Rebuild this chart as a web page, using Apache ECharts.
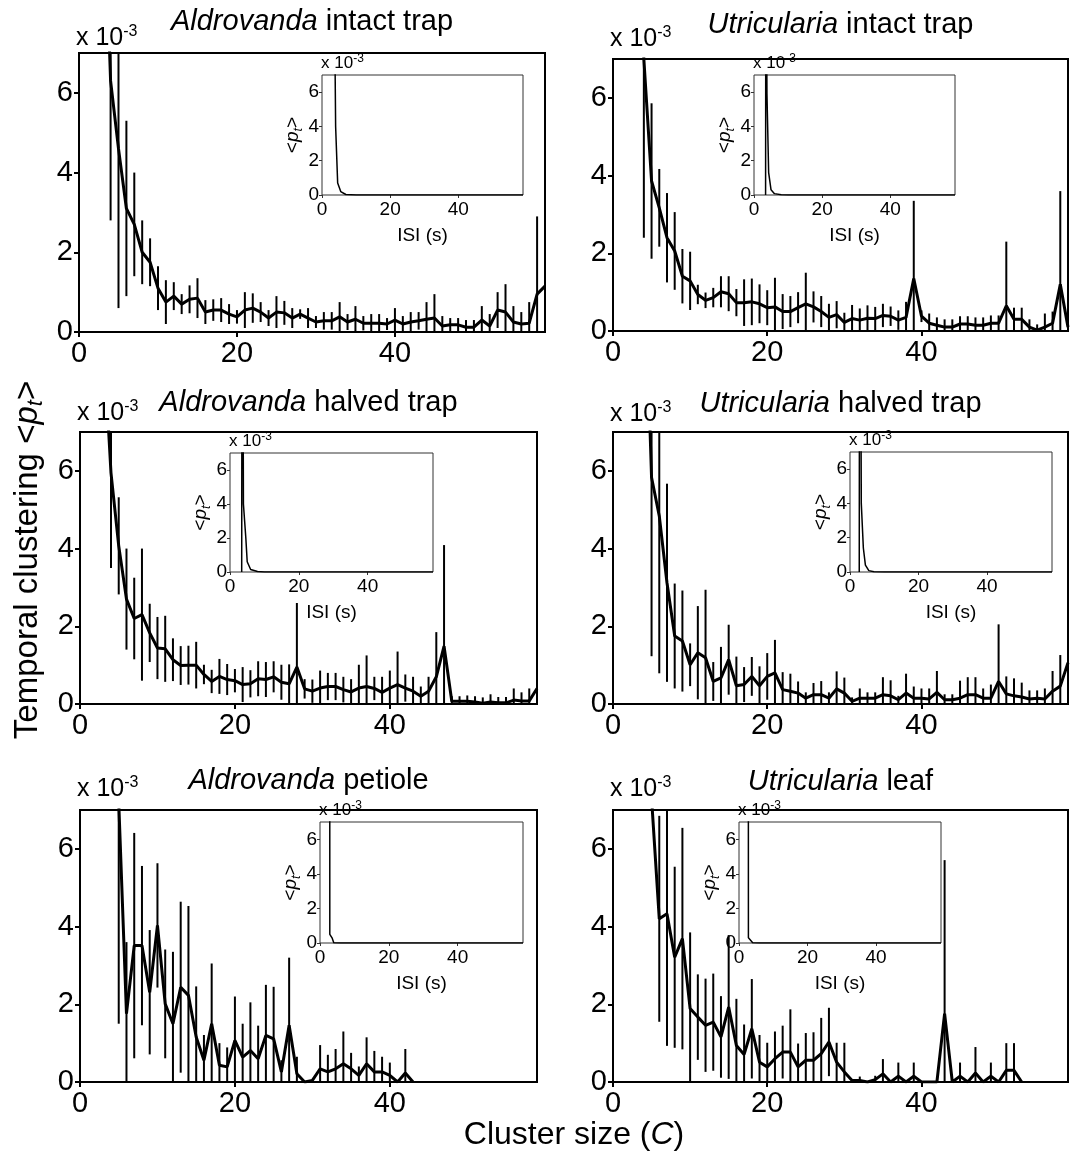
<!DOCTYPE html>
<html>
<head>
<meta charset="utf-8">
<script src="https://cdn.jsdelivr.net/npm/echarts@6/dist/echarts.min.js"></script>
<style>
html, body { margin: 0; padding: 0; background: #fff; }
#chart { width: 1078px; height: 1155px; }
</style>
</head>
<body>
<div id="chart"></div>
<script>
// cluster size C starts at pXStart, one value per integer C (x 10^-3)
var p1Start = 3;
var p1Mean = [12, 6.3, 4.6, 3.1, 2.7, 2.0, 1.75, 1.1, 0.75, 0.9,
	0.7, 0.82, 0.85, 0.5, 0.55, 0.55, 0.45, 0.38, 0.55, 0.6,
	0.5, 0.35, 0.5, 0.48, 0.35, 0.45, 0.35, 0.25, 0.28, 0.28,
	0.38, 0.25, 0.32, 0.22, 0.22, 0.22, 0.2, 0.3, 0.2, 0.25,
	0.28, 0.32, 0.35, 0.15, 0.18, 0.18, 0.12, 0.12, 0.3, 0.15,
	0.55, 0.5, 0.25, 0.2, 0.22, 0.95, 1.15];
var p1Err = [0, 3.5, 4.0, 2.2, 1.3, 0.8, 0.6, 0.55, 0.55, 0.35,
	0.25, 0.35, 0.5, 0.3, 0.27, 0.3, 0.25, 0.17, 0.45, 0.37,
	0.25, 0.2, 0.4, 0.3, 0.25, 0.12, 0.25, 0.15, 0.22, 0.22,
	0.37, 0.2, 0.33, 0.18, 0.23, 0.23, 0.15, 0.3, 0.2, 0.25,
	0.22, 0.43, 0.6, 0.25, 0.17, 0.17, 0.18, 0.18, 0.35, 0.3,
	0.45, 0.7, 0.4, 0.3, 0.53, 1.95, 0];

var p2Start = 3;
var p2Mean = [14, 7.0, 3.86, 3.17, 2.4, 2.06, 1.41, 1.29, 0.94, 0.79,
	0.86, 1.01, 0.96, 0.73, 0.73, 0.75, 0.7, 0.6, 0.62, 0.5,
	0.5, 0.6, 0.7, 0.62, 0.5, 0.35, 0.42, 0.22, 0.32, 0.28,
	0.33, 0.32, 0.4, 0.38, 0.28, 0.35, 1.35, 0.38, 0.2, 0.15,
	0.1, 0.1, 0.18, 0.18, 0.15, 0.15, 0.2, 0.2, 0.65, 0.3,
	0.3, 0.1, 0.02, 0.1, 0.2, 1.2, 0.1];
var p2Err = [0, 4.6, 2.0, 1.0, 1.15, 1.0, 0.7, 0.75, 0.25, 0.2,
	0.25, 0.4, 0.45, 0.35, 0.6, 0.6, 0.5, 0.45, 0.75, 0.45,
	0.4, 0.4, 0.8, 0.4, 0.4, 0.35, 0.35, 0.25, 0.35, 0.3,
	0.33, 0.3, 0.3, 0.25, 0.25, 0.4, 2.0, 0.15, 0.25, 0.2,
	0.2, 0.2, 0.2, 0.2, 0.2, 0.2, 0.2, 0.2, 1.65, 0.3,
	0.3, 0.2, 0.15, 0.35, 0.3, 2.4, 0];

var p3Start = 3;
var p3Mean = [9.5, 5.95, 4.07, 2.7, 2.2, 2.3, 1.83, 1.44, 1.42, 1.14,
	0.99, 1.0, 1.0, 0.76, 0.58, 0.71, 0.63, 0.6, 0.5, 0.52,
	0.65, 0.63, 0.7, 0.56, 0.52, 0.95, 0.39, 0.33, 0.41, 0.45,
	0.45, 0.37, 0.31, 0.41, 0.45, 0.4, 0.3, 0.41, 0.5, 0.41,
	0.33, 0.2, 0.33, 0.7, 1.49, 0.07, 0.07, 0.07, 0.05, 0.02,
	0.05, 0.03, 0.03, 0.1, 0.08, 0.08, 0.4];
var p3Err = [0, 2.45, 1.25, 1.3, 1.05, 1.7, 0.75, 0.8, 0.85, 0.55,
	0.5, 0.5, 0.6, 0.25, 0.3, 0.45, 0.4, 0.3, 0.45, 0.35,
	0.45, 0.45, 0.4, 0.45, 0.5, 1.65, 0.25, 0.3, 0.45, 0.35,
	0.35, 0.33, 0.33, 0.6, 0.8, 0.3, 0.4, 0.45, 0.85, 0.35,
	0.37, 0.25, 0.37, 1.15, 2.6, 0.13, 0.13, 0.15, 0.15, 0.15,
	0.2, 0.15, 0.15, 0.3, 0.22, 0.32, 0];

var p4Start = 4;
var p4Mean = [12, 5.83, 4.84, 3.12, 1.75, 1.62, 1.01, 1.32, 1.19, 0.58,
	0.67, 1.14, 0.47, 0.5, 0.71, 0.47, 0.71, 0.8, 0.37, 0.33,
	0.28, 0.15, 0.24, 0.24, 0.15, 0.39, 0.28, 0.07, 0.15, 0.15,
	0.15, 0.24, 0.21, 0.11, 0.28, 0.15, 0.15, 0.13, 0.3, 0.11,
	0.11, 0.15, 0.24, 0.24, 0.15, 0.15, 0.58, 0.26, 0.21, 0.18,
	0.13, 0.15, 0.13, 0.33, 0.46, 1.06];
var p4Err = [0, 4.6, 4.05, 2.55, 1.35, 1.3, 0.55, 1.2, 1.75, 0.5,
	0.8, 0.9, 0.75, 0.45, 0.5, 0.5, 0.6, 0.85, 0.45, 0.45,
	0.3, 0.15, 0.3, 0.35, 0.15, 0.45, 0.4, 0.1, 0.25, 0.15,
	0.15, 0.45, 0.4, 0.1, 0.5, 0.3, 0.25, 0.27, 0.55, 0.14,
	0.14, 0.45, 0.45, 0.45, 0.25, 0.35, 1.47, 0.45, 0.45, 0.37,
	0.22, 0.2, 0.27, 0.52, 0.8, 0];

var p5Start = 4;
var p5Mean = [30, 7.2, 1.76, 3.51, 3.51, 2.31, 4.03, 2.01, 1.5, 2.44,
	2.23, 1.16, 0.56, 1.5, 0.43, 0.39, 1.07, 0.64, 0.81, 0.6,
	1.2, 1.11, 0.26, 1.46, 0.21, 0, 0.04, 0.34, 0.26, 0.34,
	0.47, 0.34, 0.17, 0.47, 0.26, 0.26, 0.17, 0, 0.23, 0];
var p5Err = [0, 5.7, 1.84, 2.9, 2.05, 1.6, 1.6, 1.4, 1.85, 2.2,
	2.3, 1.3, 0.65, 1.55, 0.57, 0.5, 1.13, 0.86, 1.24, 0.85,
	1.3, 1.34, 0.3, 1.74, 0.44, 0, 0, 0.61, 0.44, 0.51,
	0.83, 0.41, 0.23, 0.68, 0.54, 0.39, 0.33, 0, 0.62, 0];

var p6Start = 4;
var p6Mean = [30, 7.3, 4.2, 4.33, 3.21, 3.69, 1.89, 1.67, 1.46, 1.54,
	1.16, 1.93, 0.94, 0.71, 1.37, 0.51, 0.39, 0.6, 0.77, 0.77,
	0.39, 0.56, 0.56, 0.73, 1.03, 0.51, 0.26, 0.04, 0.04, 0,
	0.06, 0.21, 0, 0.15, 0, 0.15, 0, 0, 0, 1.76,
	0, 0.15, 0, 0.23, 0, 0.15, 0, 0.3, 0.3, 0];
var p6Err = [0, 0, 2.65, 3.4, 2.33, 2.85, 1.96, 1.1, 1.2, 1.25,
	1.05, 1.85, 1.2, 0.77, 1.28, 0.7, 0.62, 0.7, 0.68, 1.1,
	0.6, 0.7, 0.72, 0.92, 0.88, 0.5, 0.75, 0, 0.1, 0,
	0.1, 0.38, 0, 0.35, 0, 0.35, 0, 0, 0, 3.95,
	0, 0.35, 0, 0.67, 0, 0.35, 0, 0.7, 0.7, 0];

// insets: ISI (s) vs <p_t> (x 10^-3)
var isi1T = [3.5, 4.0, 4.6, 5.5, 7, 10, 59];
var isi1P = [15, 4.0, 0.7, 0.2, 0.03, 0, 0];
var isi2T = [3.4, 3.5, 3.8, 4.3, 5, 6, 8, 10, 59];
var isi2P = [0, 20, 5.9, 1.3, 0.3, 0.08, 0.02, 0, 0];
var isi3T = [3.4, 3.55, 3.9, 4.6, 5.0, 6, 8, 10, 59];
var isi3P = [0, 30, 4.0, 2.0, 0.6, 0.15, 0.03, 0, 0];
var isi4T = [2.7, 2.85, 3.3, 3.9, 4.5, 5.5, 7, 10, 59];
var isi4P = [0, 30, 4.0, 1.4, 0.4, 0.08, 0.02, 0, 0];
var isi5T = [2.75, 2.85, 3.5, 4, 6, 59];
var isi5P = [80, 0.5, 0.3, 0.02, 0, 0];
var isi6T = [2.6, 2.75, 3.3, 4, 6, 59];
var isi6P = [80, 0.3, 0.25, 0.02, 0, 0];

var genus = ['Aldrovanda', 'Utricularia', 'Aldrovanda', 'Utricularia', 'Aldrovanda', 'Utricularia'];
var part = [' intact trap', ' intact trap', ' halved trap', ' halved trap', ' petiole', ' leaf'];
var xTicks = [0, 20, 40];
var yTicks = [0, 2, 4, 6];
var XMAX = 59, YMAX = 7;

var panels = [
	{start: p1Start, mean: p1Mean, err: p1Err, t: isi1T, p: isi1P},
	{start: p2Start, mean: p2Mean, err: p2Err, t: isi2T, p: isi2P},
	{start: p3Start, mean: p3Mean, err: p3Err, t: isi3T, p: isi3P},
	{start: p4Start, mean: p4Mean, err: p4Err, t: isi4T, p: isi4P},
	{start: p5Start, mean: p5Mean, err: p5Err, t: isi5T, p: isi5P},
	{start: p6Start, mean: p6Mean, err: p6Err, t: isi6T, p: isi6P}
];

// layout (px): left, top, width, height
var mainBox = [[79, 53, 466, 279], [613, 59, 455, 272], [80, 432, 457, 272],
	[613, 432, 455, 272], [80, 810, 457, 272], [613, 810, 455, 272]];
var insetBox = [[322, 75, 201, 120], [754, 75, 201, 120], [230, 453, 203, 119],
	[850, 452, 202, 120], [320, 822, 203, 121], [739, 822, 202, 121]];
var titleY = [22, 25, 403, 404, 781, 782];
var expY = [53, 54, 428, 429, 804, 804];

var FONT = 'Liberation Sans, Arial, Helvetica, sans-serif';

var grids = [], xAxes = [], yAxes = [], series = [], graphics = [];

var errRender = function(params, api){
	var x = api.value(0),
		lo = Math.max(0, api.value(1)),
		hi = Math.min(YMAX, api.value(2));
	if(hi <= lo) return null;
	var a = api.coord([x, lo]), b = api.coord([x, hi]);
	return {
		type: 'line',
		shape: {x1: a[0], y1: a[1], x2: b[0], y2: b[1]},
		style: {stroke: '#000', lineWidth: 2}
	};
};

var expText = function(x, y, big, small){
	return {
		type: 'text', x: x, y: y, z: 50,
		style: {
			text: '{a|x 10}{s|-3}',
			align: 'left', verticalAlign: 'bottom',
			fill: '#000',
			rich: {
				a: {fontSize: big, fontFamily: FONT, lineHeight: big + 4, fill: '#000'},
				s: {fontSize: small, fontFamily: FONT, lineHeight: small, verticalAlign: 'top', fill: '#000'}
			}
		}
	};
};

for(var k = 0; k < 6; k++){
	var pn = panels[k], mb = mainBox[k], ib = insetBox[k];
	var gMain = 2 * k, gIn = 2 * k + 1;

	grids.push({left: mb[0], top: mb[1], width: mb[2], height: mb[3],
		show: true, borderColor: '#000', borderWidth: 2, backgroundColor: 'transparent'});
	grids.push({left: ib[0], top: ib[1], width: ib[2], height: ib[3],
		show: true, borderColor: '#333', borderWidth: 1, backgroundColor: '#fff'});

	xAxes.push({
		type: 'value', gridIndex: gMain, min: 0, max: XMAX,
		axisLine: {show: false}, splitLine: {show: false},
		axisTick: {show: true, length: 5, customValues: xTicks, lineStyle: {color: '#000', width: 2}},
		axisLabel: {customValues: xTicks, fontSize: 29, color: '#000', margin: 7, fontFamily: FONT}
	});
	yAxes.push({
		type: 'value', gridIndex: gMain, min: 0, max: YMAX,
		axisLine: {show: false}, splitLine: {show: false},
		axisTick: {show: true, length: 5, customValues: yTicks, lineStyle: {color: '#000', width: 2}},
		axisLabel: {customValues: yTicks, fontSize: 29, color: '#000', margin: 6, fontFamily: FONT}
	});
	xAxes.push({
		type: 'value', gridIndex: gIn, min: 0, max: XMAX,
		axisLine: {show: false}, splitLine: {show: false},
		axisTick: {show: true, length: 3, customValues: xTicks, lineStyle: {color: '#333', width: 1}},
		axisLabel: {customValues: xTicks, fontSize: 19, color: '#000', margin: 5, fontFamily: FONT},
		name: 'ISI (s)', nameLocation: 'middle', nameGap: 31,
		nameTextStyle: {fontSize: 19, color: '#000', fontFamily: FONT}
	});
	yAxes.push({
		type: 'value', gridIndex: gIn, min: 0, max: YMAX,
		axisLine: {show: false}, splitLine: {show: false},
		axisTick: {show: true, length: 3, customValues: yTicks, lineStyle: {color: '#333', width: 1}},
		axisLabel: {customValues: yTicks, fontSize: 19, color: '#000', margin: 3, fontFamily: FONT},
		name: '{a|<}{i|p}{s|t}{a|>}', nameLocation: 'middle', nameGap: 12, nameRotate: 90,
		nameTextStyle: {
			fontSize: 19, color: '#000', fontFamily: FONT,
			rich: {
				a: {fontSize: 19, fontFamily: FONT, lineHeight: 23, color: '#000'},
				i: {fontSize: 19, fontFamily: FONT, fontStyle: 'italic', lineHeight: 23, color: '#000'},
				s: {fontSize: 13, fontFamily: FONT, fontStyle: 'italic', lineHeight: 13, verticalAlign: 'bottom', color: '#000'}
			}
		}
	});

	var line = [], bars = [];
	for(var i = 0; i < pn.mean.length; i++){
		var c = pn.start + i;
		line.push([c, pn.mean[i]]);
		if(pn.err[i] > 0){
			bars.push([c, pn.mean[i] - pn.err[i], pn.mean[i] + pn.err[i]]);
		}
	}
	series.push({
		type: 'custom', xAxisIndex: gMain, yAxisIndex: gMain,
		data: bars, renderItem: errRender, encode: {x: 0, y: [1, 2]}, silent: true, z: 2
	});
	series.push({
		type: 'line', xAxisIndex: gMain, yAxisIndex: gMain,
		data: line, showSymbol: false, symbol: 'none', clip: true, silent: true, z: 3,
		lineStyle: {color: '#000', width: 3}
	});

	var isi = [];
	for(var j = 0; j < pn.t.length; j++){
		isi.push([pn.t[j], pn.p[j]]);
	}
	series.push({
		type: 'line', xAxisIndex: gIn, yAxisIndex: gIn,
		data: isi, showSymbol: false, symbol: 'none', clip: true, silent: true, z: 5,
		lineStyle: {color: '#000', width: 1.5}
	});

	// panel title
	graphics.push({
		type: 'text', x: mb[0] + mb[2] / 2, y: titleY[k], z: 50,
		style: {
			text: '{i|' + genus[k] + '}{n|' + part[k] + '}',
			align: 'center', verticalAlign: 'middle', fill: '#000',
			rich: {
				i: {fontSize: 29, fontFamily: FONT, fontStyle: 'italic', fill: '#000'},
				n: {fontSize: 29, fontFamily: FONT, fill: '#000'}
			}
		}
	});
	graphics.push(expText(mb[0] - 3, expY[k], 25, 16));
	graphics.push(expText(ib[0] - 1, ib[1] - 1, 17, 12));
}

graphics.push({
	type: 'text', x: 28, y: 560, rotation: Math.PI / 2, z: 50,
	style: {
		text: '{n|Temporal clustering <}{i|p}{s|t}{n|>}',
		align: 'center', verticalAlign: 'middle', fill: '#000',
		rich: {
			n: {fontSize: 33, fontFamily: FONT, lineHeight: 38, fill: '#000'},
			i: {fontSize: 33, fontFamily: FONT, fontStyle: 'italic', lineHeight: 38, fill: '#000'},
			s: {fontSize: 22, fontFamily: FONT, fontStyle: 'italic', lineHeight: 22, verticalAlign: 'bottom', fill: '#000'}
		}
	}
});
graphics.push({
	type: 'text', x: 574, y: 1135, z: 50,
	style: {
		text: '{n|Cluster size (}{i|C}{n|)}',
		align: 'center', verticalAlign: 'middle', fill: '#000',
		rich: {
			n: {fontSize: 32, fontFamily: FONT, fill: '#000'},
			i: {fontSize: 32, fontFamily: FONT, fontStyle: 'italic', fill: '#000'}
		}
	}
});

var myChart = echarts.init(document.getElementById('chart'), null, {renderer: 'canvas'});
myChart.setOption({
	animation: false,
	backgroundColor: '#fff',
	grid: grids,
	xAxis: xAxes,
	yAxis: yAxes,
	series: series,
	graphic: graphics
});
</script>
</body>
</html>
